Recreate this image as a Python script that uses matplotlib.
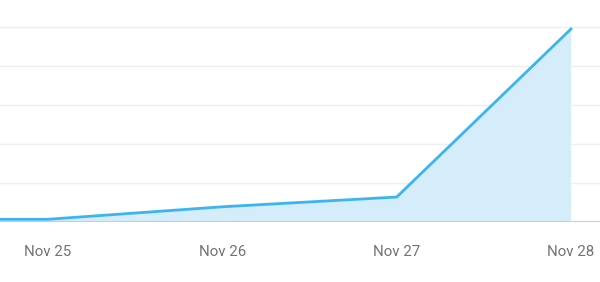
import matplotlib
matplotlib.use("Agg")
import matplotlib.pyplot as plt

# day offsets relative to Nov 25
days = [-1, 0, 1, 2, 3]
values = [0.07, 0.07, 0.39, 0.64, 4.95]
tick_pos = [0, 1, 2, 3]
tick_labels = ["Nov 25", "Nov 26", "Nov 27", "Nov 28"]
grid_vals = [1, 2, 3, 4, 5]

plt.rcParams['font.family'] = ['Roboto', 'DejaVu Sans']

fig = plt.figure(figsize=(6, 2.82), dpi=100)
ax = fig.add_axes([0, 60 / 282, 1, 222 / 282])

line_color = "#3bb4f2"
ax.fill_between(days, values, 0, color="#d5ecfa", linewidth=0, zorder=1)
ax.plot(days, values, color=line_color, linewidth=2, zorder=3, solid_joinstyle="miter")

for g in grid_vals:
    ax.axhline(g, color="#efefef", linewidth=1, zorder=0)
ax.axhline(0, color="#cccccc", linewidth=1.5, zorder=2)

px_per_day = (571 - 48) / 3
ax.set_xlim(-48 / px_per_day, 3 + (600 - 571) / px_per_day)
ax.set_ylim(0, 222 / 39)

ax.set_xticks(tick_pos)
ax.set_xticklabels(tick_labels, color="#737373", fontsize=10.8)
ax.tick_params(axis="x", length=0, pad=16.5)
ax.set_yticks([])
for s in ax.spines.values():
    s.set_visible(False)

fig.savefig("out.png", dpi=100)
